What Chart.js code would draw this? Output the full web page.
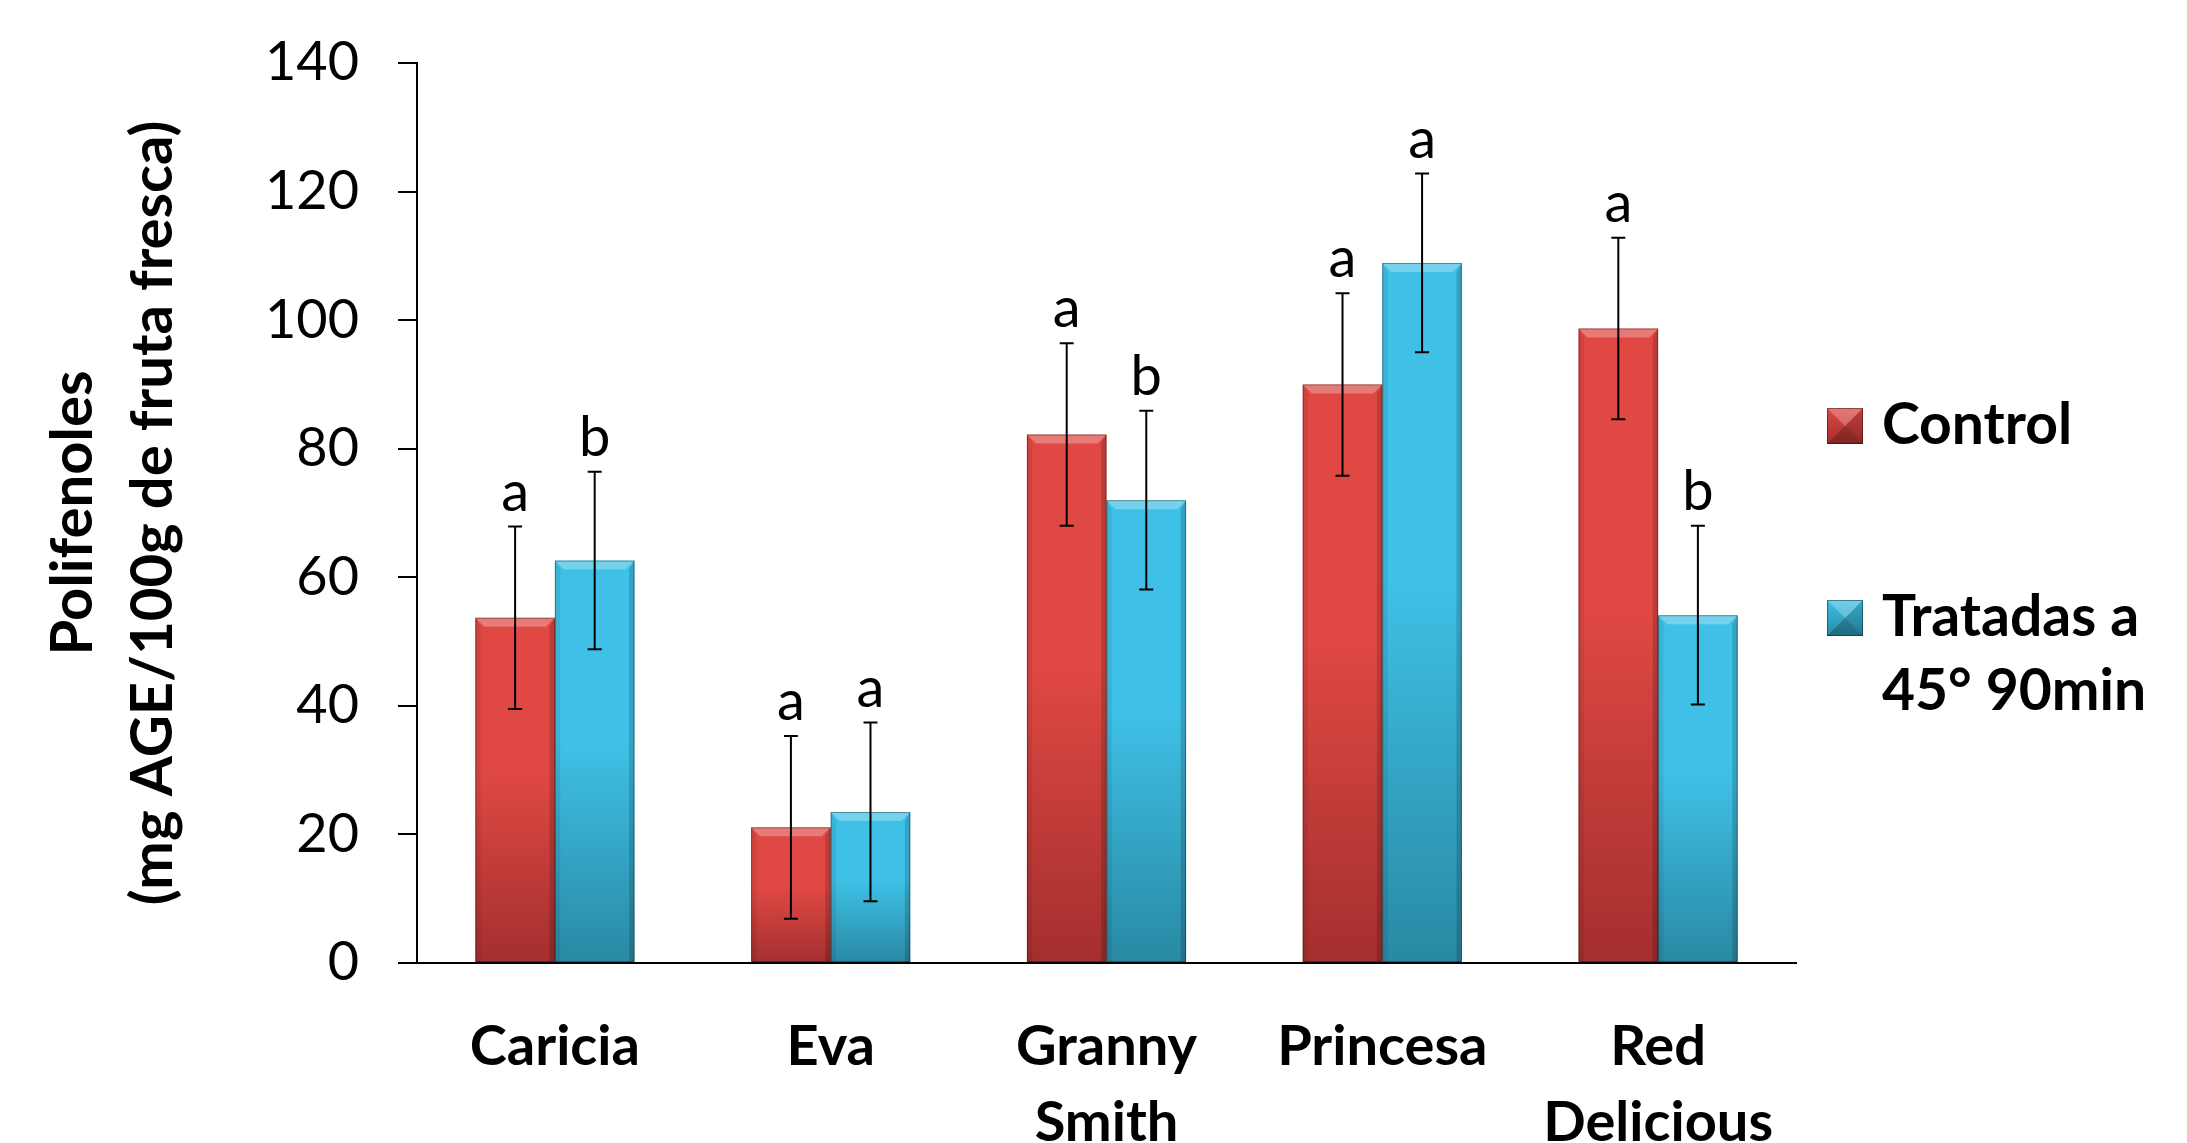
<!DOCTYPE html>
<html>
<head>
<meta charset="utf-8">
<title>Polifenoles</title>
<script src="https://cdn.jsdelivr.net/npm/chart.js@4.4.1/dist/chart.umd.min.js"></script>
<style>
    html, body { margin: 0; padding: 0; background: #fff; }
    #wrap { width: 2187px; height: 1143px; }
</style>
</head>
<body>
<div id="wrap"><canvas id="chart" width="2187" height="1143"></canvas></div>
<script>
// Values
const varieties = ['Caricia', 'Eva', ['Granny', 'Smith'], 'Princesa', ['Red', 'Delicious']];
const controlValues = [53.7, 21.1, 82.2, 90.0, 98.7];
const controlErrors = [14.2, 14.2, 14.2, 14.2, 14.1];
const controlLetters = ['a', 'a', 'a', 'a', 'a'];
const treatedValues = [62.6, 23.5, 72.0, 108.9, 54.1];
const treatedErrors = [13.8, 13.9, 13.9, 13.9, 13.9];
const treatedLetters = ['b', 'a', 'b', 'a', 'b'];
const seriesNames = ['Control', 'Tratadas a 45° 90min'];
const legendLines = [['Control'], ['Tratadas a', '45° 90min']];
const yMin = 0, yMax = 140, yStep = 20;
const yTitle = ['Polifenoles', '(mg AGE/100g de fruta fresca)'];

// Colours (top of bar, bottom of bar)
const redShades = ['#df4843', '#a32f2e'];
const blueShades = ['#3fc1e7', '#2989a3'];

const FONT = 'Lato';

// Vertical gradient per bar, light at the top and dark at the base
function barFill(shades) {
    return function(context) {
        const chart = context.chart;
        const yScale = chart.scales.y;
        if (!chart.chartArea || !yScale || context.raw === undefined) return shades[0];
        const top = yScale.getPixelForValue(context.raw);
        const base = yScale.getPixelForValue(0);
        const g = chart.ctx.createLinearGradient(0, top, 0, base);
        g.addColorStop(0, shades[0]);
        g.addColorStop(0.45, shades[0]);
        g.addColorStop(1, shades[1]);
        return g;
    };
}

// Bevel edges on each bar
const bevelPlugin = {
    id: 'bevel',
    afterDatasetsDraw(chart) {
        const ctx = chart.ctx;
        chart.data.datasets.forEach((ds, di) => {
            chart.getDatasetMeta(di).data.forEach(bar => {
                const l = bar.x - bar.width / 2;
                const r = bar.x + bar.width / 2;
                const t = bar.y;
                const b = bar.base;
                const s = 9;
                ctx.save();
                // top highlight
                ctx.fillStyle = 'rgba(255,255,255,0.28)';
                ctx.beginPath();
                ctx.moveTo(l, t); ctx.lineTo(r, t); ctx.lineTo(r - s, t + s); ctx.lineTo(l + s, t + s);
                ctx.closePath(); ctx.fill();
                // left edge
                ctx.fillStyle = 'rgba(0,0,0,0.07)';
                ctx.beginPath();
                ctx.moveTo(l, t); ctx.lineTo(l + s * 0.6, t + s); ctx.lineTo(l + s * 0.6, b); ctx.lineTo(l, b);
                ctx.closePath(); ctx.fill();
                // right edge
                ctx.fillStyle = 'rgba(0,0,0,0.16)';
                ctx.beginPath();
                ctx.moveTo(r, t); ctx.lineTo(r - s * 0.6, t + s); ctx.lineTo(r - s * 0.6, b); ctx.lineTo(r, b);
                ctx.closePath(); ctx.fill();
                // outline
                ctx.strokeStyle = 'rgba(0,0,0,0.35)';
                ctx.lineWidth = 1;
                ctx.strokeRect(l + 0.5, t + 0.5, bar.width - 1, b - t - 1);
                ctx.restore();
            });
        });
    }
};

// Error bars and significance letters
const errorPlugin = {
    id: 'errorBars',
    afterDatasetsDraw(chart) {
        const ctx = chart.ctx;
        const yScale = chart.scales.y;
        chart.data.datasets.forEach((ds, di) => {
            chart.getDatasetMeta(di).data.forEach((bar, i) => {
                const v = ds.data[i];
                const e = ds.errors[i];
                const yTop = yScale.getPixelForValue(v + e);
                const yBot = yScale.getPixelForValue(v - e);
                const x = bar.x;
                ctx.save();
                ctx.strokeStyle = '#000';
                ctx.lineWidth = 2;
                ctx.beginPath();
                ctx.moveTo(x, yTop); ctx.lineTo(x, yBot);
                ctx.moveTo(x - 7, yTop); ctx.lineTo(x + 7, yTop);
                ctx.moveTo(x - 7, yBot); ctx.lineTo(x + 7, yBot);
                ctx.stroke();
                ctx.fillStyle = '#000';
                ctx.font = '56px ' + FONT;
                ctx.textAlign = 'center';
                ctx.textBaseline = 'alphabetic';
                ctx.fillText(ds.letters[i], x, yTop - 16);
                ctx.restore();
            });
        });
    }
};

// Legend on the right, with wrapped label
const legendPlugin = {
    id: 'sideLegend',
    afterDraw(chart) {
        const ctx = chart.ctx;
        const boxX = 1827, size = 36, textX = 1882;
        const rowY = [426, 618];
        const lineGap = 74;
        chart.data.datasets.forEach((ds, di) => {
            const cy = rowY[di];
            const shades = ds.shades;
            const top = cy - size / 2;
            ctx.save();
            const g = ctx.createLinearGradient(0, top, 0, top + size);
            g.addColorStop(0, shades[0]);
            g.addColorStop(1, shades[1]);
            ctx.fillStyle = g;
            ctx.fillRect(boxX, top, size, size);
            // pyramid bevel
            const c = size / 2, l = boxX, t = top, r = boxX + size, b = top + size;
            const tri = (pts, col) => {
                ctx.fillStyle = col;
                ctx.beginPath();
                ctx.moveTo(pts[0], pts[1]); ctx.lineTo(pts[2], pts[3]); ctx.lineTo(pts[4], pts[5]);
                ctx.closePath(); ctx.fill();
            };
            tri([l, t, r, t, l + c, t + c], 'rgba(255,255,255,0.25)');
            tri([r, t, r, b, l + c, t + c], 'rgba(0,0,0,0.12)');
            tri([l, b, r, b, l + c, t + c], 'rgba(0,0,0,0.22)');
            ctx.strokeStyle = 'rgba(0,0,0,0.4)';
            ctx.lineWidth = 1;
            ctx.strokeRect(l + 0.5, t + 0.5, size - 1, size - 1);
            ctx.fillStyle = '#000';
            ctx.font = 'bold 57px ' + FONT;
            ctx.textAlign = 'left';
            ctx.textBaseline = 'middle';
            legendLines[di].forEach((line, li) => {
                ctx.fillText(line, textX, cy + li * lineGap);
            });
            ctx.restore();
        });
    }
};

const ctx = document.getElementById('chart').getContext('2d');
const chart = new Chart(ctx, {
    type: 'bar',
    data: {
        labels: varieties,
        datasets: [
            {
                label: seriesNames[0],
                data: controlValues,
                errors: controlErrors,
                letters: controlLetters,
                shades: redShades,
                backgroundColor: barFill(redShades),
                borderWidth: 0
            },
            {
                label: seriesNames[1],
                data: treatedValues,
                errors: treatedErrors,
                letters: treatedLetters,
                shades: blueShades,
                backgroundColor: barFill(blueShades),
                borderWidth: 0
            }
        ]
    },
    options: {
        responsive: false,
        animation: false,
        devicePixelRatio: 1,
        categoryPercentage: 0.577,
        barPercentage: 1,
        layout: {
            padding: { top: 63, right: 391, bottom: 0, left: 0 }
        },
        plugins: {
            legend: { display: false },
            tooltip: { enabled: false }
        },
        scales: {
            x: {
                grid: { display: false },
                border: { display: true, color: '#000', width: 2 },
                ticks: {
                    color: '#000',
                    padding: 38,
                    maxRotation: 0,
                    autoSkip: false,
                    font: { family: FONT, size: 56, weight: 'bold', lineHeight: 1.36 }
                },
                afterFit(scale) { scale.height = 180; }
            },
            y: {
                min: yMin,
                max: yMax,
                ticks: {
                    stepSize: yStep,
                    color: '#000',
                    padding: 39,
                    font: { family: FONT, size: 54 }
                },
                grid: {
                    display: true,
                    drawOnChartArea: false,
                    drawTicks: true,
                    tickLength: 19,
                    color: '#000',
                    lineWidth: 2
                },
                border: { display: true, color: '#000', width: 2 },
                title: {
                    display: true,
                    text: yTitle,
                    color: '#000',
                    padding: { top: 33, bottom: 0 },
                    font: { family: FONT, size: 58, weight: 'bold', lineHeight: 1.38 }
                },
                afterFit(scale) {
                    scale.width = 417;
                    scale.paddingTop = 0;
                    scale.paddingBottom = 0;
                }
            }
        }
    },
    plugins: [bevelPlugin, errorPlugin, legendPlugin]
});
</script>
</body>
</html>
